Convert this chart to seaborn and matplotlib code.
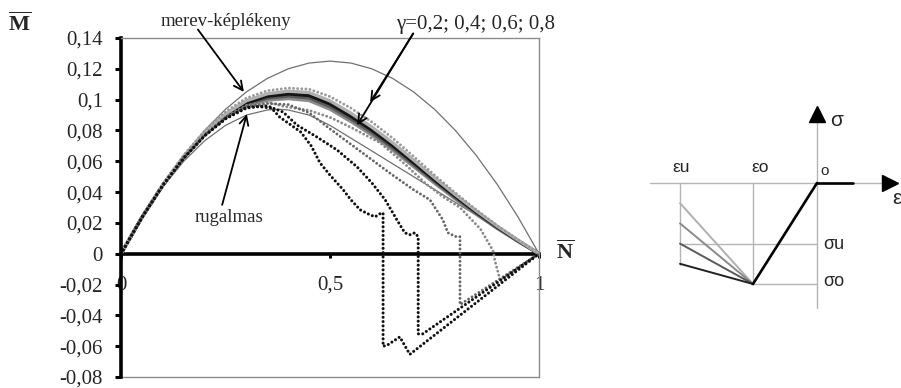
import matplotlib
matplotlib.use("Agg")
import matplotlib.pyplot as plt
import seaborn as sns

# ---------------- interaction diagram data (N̄ – M̄) ----------------
n_grid = [0.0, 0.05, 0.1, 0.15, 0.2, 0.25, 0.3, 0.35, 0.4, 0.45, 0.5,
          0.55, 0.6, 0.65, 0.7, 0.75, 0.8, 0.85, 0.9, 0.95, 1.0]

# rigid-plastic envelope
m_plastic = [0.0, 0.02375, 0.045, 0.06375, 0.08, 0.09375, 0.105, 0.11375, 0.12,
             0.12375, 0.125, 0.12375, 0.12, 0.11375, 0.105, 0.09375, 0.08,
             0.06375, 0.045, 0.02375, 0.0]

# linear elastic (no tension) limit
n_elastic = [0.0, 0.05, 0.1, 0.15, 0.2, 0.25, 0.3, 0.35, 0.375, 0.4, 0.45,
             0.5, 0.6, 0.7, 0.8, 0.9, 1.0]
m_elastic = [0.0, 0.0233, 0.0433, 0.06, 0.0733, 0.0833, 0.09, 0.0933, 0.0938,
             0.0933, 0.09, 0.0833, 0.0667, 0.05, 0.0333, 0.0167, 0.0]

# softening material, solid curves (gamma = 0.2 ... 0.8)
m_band_a = [0.0, 0.0237, 0.0448, 0.0632, 0.0787, 0.0907, 0.0993, 0.1038, 0.1055,
            0.1046, 0.0992, 0.0912, 0.0822, 0.0720, 0.0608, 0.0493, 0.0383,
            0.0278, 0.0179, 0.0088, 0.0]
m_band_b = [0.0, 0.0236, 0.0446, 0.0628, 0.0780, 0.0898, 0.0980, 0.1022, 0.1037,
            0.1027, 0.0972, 0.0892, 0.0803, 0.0702, 0.0592, 0.0480, 0.0373,
            0.0270, 0.0174, 0.0085, 0.0]
m_band_c = [0.0, 0.0236, 0.0445, 0.0625, 0.0775, 0.0891, 0.0971, 0.1010, 0.1023,
            0.1011, 0.0955, 0.0875, 0.0787, 0.0687, 0.0579, 0.0470, 0.0364,
            0.0263, 0.0169, 0.0082, 0.0]
m_band_d = [0.0, 0.0235, 0.0443, 0.0621, 0.0769, 0.0883, 0.0961, 0.0997, 0.1007,
            0.0994, 0.0938, 0.0858, 0.0771, 0.0673, 0.0566, 0.0458, 0.0355,
            0.0256, 0.0164, 0.0079, 0.0]

# dotted curves
m_dot_top = [0.0, 0.0238, 0.0452, 0.0640, 0.0797, 0.0922, 0.1010, 0.1058, 0.1075,
             0.1068, 0.1020, 0.0945, 0.0855, 0.0750, 0.0632, 0.0510, 0.0395,
             0.0285, 0.0183, 0.0090, 0.0]

n_dot1 = [0.0, 0.05, 0.1, 0.15, 0.2, 0.25, 0.3, 0.33, 0.36, 0.38, 0.40, 0.43,
          0.455, 0.476, 0.50, 0.53, 0.55, 0.572, 0.596, 0.608, 0.62, 0.627,
          0.627, 0.636, 0.667, 0.691, 1.0]
m_dot1 = [0.0, 0.0235, 0.0444, 0.0620, 0.0765, 0.0875, 0.0945, 0.0955, 0.0945,
          0.0886, 0.0848, 0.0790, 0.0700, 0.0590, 0.0510, 0.0420, 0.0350,
          0.0285, 0.0252, 0.0240, 0.0260, 0.0265, -0.0600, -0.0595, -0.0540,
          -0.0653, 0.0]

n_dot2 = [0.0, 0.05, 0.1, 0.15, 0.2, 0.25, 0.3, 0.35, 0.388, 0.421, 0.469,
          0.517, 0.565, 0.60, 0.632, 0.66, 0.679, 0.691, 0.703, 0.711, 0.711,
          0.722, 1.0]
m_dot2 = [0.0, 0.0235, 0.0444, 0.0621, 0.0766, 0.0877, 0.0950, 0.0960, 0.0919,
          0.0835, 0.0757, 0.0673, 0.0563, 0.0460, 0.0350, 0.0220, 0.0136,
          0.0123, 0.0136, 0.0110, -0.0520, -0.0520, 0.0]

n_dot3 = [0.0, 0.05, 0.1, 0.15, 0.2, 0.25, 0.3, 0.35, 0.4, 0.45, 0.5, 0.55,
          0.6, 0.65, 0.7, 0.739, 0.77, 0.782, 0.80, 0.811, 0.811, 1.0]
m_dot3 = [0.0, 0.0236, 0.0446, 0.0624, 0.0771, 0.0884, 0.0955, 0.0975, 0.0968,
          0.0915, 0.0810, 0.0710, 0.0610, 0.0510, 0.0415, 0.0350, 0.0220,
          0.0136, 0.0112, 0.0110, -0.0330, 0.0]

n_dot4 = [0.0, 0.05, 0.1, 0.15, 0.2, 0.25, 0.3, 0.35, 0.388, 0.45, 0.5, 0.55,
          0.62, 0.68, 0.727, 0.77, 0.811, 0.86, 0.89, 0.895, 0.907, 1.0]
m_dot4 = [0.0, 0.0236, 0.0446, 0.0626, 0.0774, 0.0888, 0.0962, 0.0985, 0.0957,
          0.0930, 0.0885, 0.0820, 0.0720, 0.0580, 0.0460, 0.0370, 0.0300,
          0.0160, 0.0020, -0.0050, -0.0170, 0.0]

y_ticks = [0.14, 0.12, 0.1, 0.08, 0.06, 0.04, 0.02, 0.0, -0.02, -0.04, -0.06, -0.08]
y_labels = ["0,14", "0,12", "0,1", "0,08", "0,06", "0,04", "0,02", "0",
            "-0,02", "-0,04", "-0,06", "-0,08"]
x_ticks = [0.0, 0.5, 1.0]
x_labels = ["0", "0,5", "1"]

# ---------------- stress–strain sketch data ----------------
eps_tension = [0.0, 0.56]
sig_tension = [0.0, 0.0]
eps_loading = [0.0, -1.0]
sig_loading = [0.0, -1.0]
eps_soft = [-1.0, -2.14]
sig_soft_ends = [-0.2, -0.4, -0.6, -0.8]
soft_colors = ["#b0b0b0", "#8a8a8a", "#5a5a5a", "#222222"]

# ---------------- figure ----------------
sns.set_style("white")
plt.rcParams["font.family"] = ["Liberation Serif", "DejaVu Serif"]
plt.rcParams["mathtext.fontset"] = "custom"
plt.rcParams["mathtext.rm"] = "Liberation Serif"
plt.rcParams["mathtext.bf"] = "Liberation Serif:bold"

W, H = 901, 388
fig = plt.figure(figsize=(W / 100, H / 100), dpi=100)


def fx(px):
    return px / W


def fy(py):
    return 1 - py / H


ax = fig.add_axes([fx(121), fy(377), (539 - 121) / W, (377 - 38) / H])

thin = "#707070"
sns.lineplot(x=n_grid, y=m_plastic, ax=ax, color=thin, lw=0.9,
             sort=False, estimator=None, errorbar=None)
sns.lineplot(x=n_elastic, y=m_elastic, ax=ax, color=thin, lw=0.9,
             sort=False, estimator=None, errorbar=None)

for m, c in [(m_band_d, "#8c8c8c"), (m_band_c, "#5a5a5a"),
             (m_band_b, "#151515"), (m_band_a, "#b0b0b0")]:
    sns.lineplot(x=n_grid, y=m, ax=ax, color=c, lw=2.4,
                 sort=False, estimator=None, errorbar=None)

dot_style = dict(linestyle=(0, (0.01, 1.4)), dash_capstyle="round",
                 sort=False, estimator=None, errorbar=None)
sns.lineplot(x=n_grid, y=m_dot_top, ax=ax, color="#9a9a9a", lw=2.1, **dot_style)
sns.lineplot(x=n_dot4, y=m_dot4, ax=ax, color="#888888", lw=2.1, **dot_style)
sns.lineplot(x=n_dot3, y=m_dot3, ax=ax, color="#666666", lw=2.1, **dot_style)
sns.lineplot(x=n_dot2, y=m_dot2, ax=ax, color="#111111", lw=2.2, **dot_style)
sns.lineplot(x=n_dot1, y=m_dot1, ax=ax, color="#111111", lw=2.2, **dot_style)

ax.set_xlim(0, 1)
ax.set_ylim(-0.08, 0.14)
ax.set_xlabel("")
ax.set_ylabel("")

# axes: thick black left spine and zero line, thin grey frame elsewhere
frame = "#8c8c8c"
ax.spines["left"].set_color("black")
ax.spines["left"].set_linewidth(2.6)
ax.spines["bottom"].set_position(("data", 0))
ax.spines["bottom"].set_color("black")
ax.spines["bottom"].set_linewidth(2.6)
ax.spines["bottom"].set_zorder(1.5)
for s in ("top", "right"):
    ax.spines[s].set_color(frame)
    ax.spines[s].set_linewidth(1.0)
ax.plot([0, 1], [-0.08, -0.08], color=frame, lw=1.0, clip_on=False, zorder=1)

ax.set_yticks(y_ticks)
ax.set_yticklabels(y_labels)
ax.set_xticks(x_ticks)
ax.set_xticklabels(x_labels)
ax.tick_params(axis="y", direction="out", length=4, width=2.2, color="black",
               pad=9, labelsize=15, left=True)
ax.tick_params(axis="x", direction="out", length=3, width=2.2, color="black",
               pad=13, labelsize=15, bottom=True)

# axis names
fig.text(fx(20), fy(24), r"$\overline{\mathbf{M}}$", fontsize=16,
         ha="center", va="center")
fig.text(fx(565), fy(252), r"$\overline{\mathbf{N}}$", fontsize=16,
         ha="center", va="center")

# annotations
arrow = dict(arrowstyle="->", color="black", lw=1.3, mutation_scale=16,
             shrinkA=0, shrinkB=0)
fig.text(fx(226), fy(21), "merev-képlékeny", fontsize=13.5,
         ha="center", va="center")
ax.annotate("", xy=(0.294, 0.105), xytext=(0.184, 0.1455),
            arrowprops=arrow, annotation_clip=False)

fig.text(fx(476), fy(25), "γ=0,2; 0,4; 0,6; 0,8", fontsize=15,
         ha="center", va="center")
ax.annotate("", xy=(0.596, 0.0983), xytext=(0.699, 0.1429),
            arrowprops=arrow, annotation_clip=False)
ax.annotate("", xy=(0.565, 0.0835), xytext=(0.699, 0.1429),
            arrowprops=arrow, annotation_clip=False)

fig.text(fx(229), fy(217), "rugalmas", fontsize=13.5,
         ha="center", va="center")
ax.annotate("", xy=(0.301, 0.0906), xytext=(0.242, 0.0317),
            arrowprops=arrow, annotation_clip=False)

# ---------------- stress–strain sketch ----------------
ax2 = fig.add_axes([fx(640), fy(320), 261 / W, 230 / H])
ax2.set_xlim((640 - 817) / 64, (901 - 817) / 64)
ax2.set_ylim((183 - 320) / 101, (183 - 90) / 101)
ax2.axis("off")

guide = "#b5b5b5"
ax2.plot([-2.61, 1.06], [0, 0], color=guide, lw=1.0)
ax2.plot([0, 0], [0.62, -1.24], color=guide, lw=1.0)
ax2.plot([-2.14, -2.14], [0, -0.81], color=guide, lw=1.0)
ax2.plot([-1.0, -1.0], [0, -1.0], color=guide, lw=1.0)
ax2.plot([-2.14, 0], [-0.6, -0.6], color=guide, lw=1.0)
ax2.plot([-1.03, 0], [-1.0, -1.0], color=guide, lw=1.0)
ax2.plot([1.14], [0], marker=">", ms=11, color="black", mec="black", lw=0)
ax2.plot([0], [0.68], marker="^", ms=11, color="black", mec="black", lw=0)

for s_end, c in zip(sig_soft_ends, soft_colors):
    sns.lineplot(x=eps_soft, y=[-1.0, s_end], ax=ax2, color=c, lw=1.4,
                 sort=False, estimator=None, errorbar=None)
sns.lineplot(x=eps_loading, y=sig_loading, ax=ax2, color="black", lw=1.9,
             sort=False, estimator=None, errorbar=None)
sns.lineplot(x=eps_tension, y=sig_tension, ax=ax2, color="black", lw=1.9,
             sort=False, estimator=None, errorbar=None)
ax2.set_xlabel("")
ax2.set_ylabel("")

sans = ["Liberation Sans", "DejaVu Sans"]
ax2.text(0.2, 0.62, "σ", family=sans, fontsize=15, ha="left", va="center")
ax2.text(1.17, -0.15, "ε", family=sans, fontsize=15, ha="left", va="center")
ax2.text(-2.125, 0.15, "εu", family=sans, fontsize=12.5, ha="center", va="center")
ax2.text(-0.89, 0.15, "εo", family=sans, fontsize=12.5, ha="center", va="center")
ax2.text(0.125, 0.12, "o", family=sans, fontsize=11, ha="center", va="center")
ax2.text(0.1, -0.61, "σu", family=sans, fontsize=13, ha="left", va="center")
ax2.text(0.1, -0.98, "σo", family=sans, fontsize=13, ha="left", va="center")

fig.savefig("out.png", dpi=100)
